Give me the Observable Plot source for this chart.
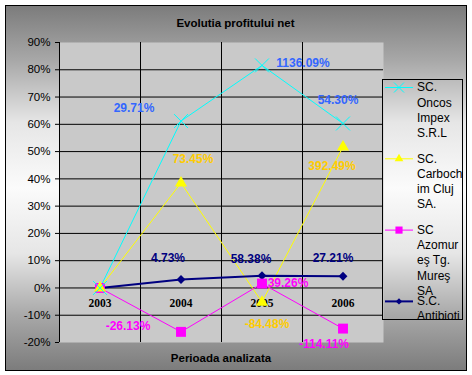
<!DOCTYPE html>
<html>
<head>
<meta charset="utf-8">
<script src="https://cdn.jsdelivr.net/npm/d3@7"></script>
<script src="https://cdn.jsdelivr.net/npm/@observablehq/plot@0.6"></script>
<style>
  html, body { margin: 0; padding: 0; background: #ffffff; }
  #chart { position: relative; width: 472px; height: 375px; overflow: hidden; font-family: 'Liberation Sans', Arial, sans-serif; }
  #frame { position: absolute; left: 5px; top: 5px; width: 460px; height: 364px; border: 1px solid #000;
    background: linear-gradient(to bottom, #7c7c7c 0%, #a8a8a8 15%, #e6e6e6 32%, #fbfbfb 50%, #e6e6e6 68%, #a8a8a8 85%, #7c7c7c 100%); }
  .ttl { position: absolute; font-weight: bold; font-size: 11.5px; line-height: 14px; text-align: center; color: #000; }
  #chart svg { position: absolute; left: 0; top: 0; }
</style>
</head>
<body>
<div id="chart">
  <div id="frame"></div>
</div>
<script>
// ---- data ----
const years = [2003, 2004, 2005, 2006];
const seriesNames = ["SC. Oncos Impex S.R.L", "SC. Carbochim Cluj SA.", "SC Azomureş Tg. Mureş SA", "S.C. Antibiotice"];
const oncos = [0, 61.2, 81.6, 60.3];
const carbochim = [0, 38.5, -5.2, 51.7];
const azomures = [0, -16.1, 1.6, -14.9];
const antibiotice = [0, 3.1, 4.5, 4.3];
const oncosLabels = ["", "29.71%", "1136.09%", "54.30%"];
const carbochimLabels = ["", "73.45%", "-84.48%", "392.49%"];
const azomuresLabels = ["", "-26.13%", "39.26%", "-114.11%"];
const antibioticeLabels = ["", "4.73%", "58.38%", "27.21%"];
const legendLines = [
  ["SC.", "Oncos", "Impex", "S.R.L"],
  ["SC.", "Carboch", "im Cluj", "SA."],
  ["SC", "Azomur", "eş Tg.", "Mureş", "SA"],
  ["S.C.", "Antibioti"]
];
const yTicks = [-20, -10, 0, 10, 20, 30, 40, 50, 60, 70, 80, 90];
const yGrid = [-10, 0, 10, 20, 30, 40, 50, 60, 70, 80];
const titleText = "Evolutia profitului net";
const xTitleText = "Perioada analizata";

// ---- styles / layout (not data) ----
const lineColors = ["#00ffff", "#ffff00", "#ff00ff", "#000080"];
const labelColors = ["#3366ff", "#ffcc00", "#ff00ff", "#000080"];
const symbols = ["times", "triangle", "square", "diamond2"];
const symbolR = [6.4, 4.5, 5.6, 4.0];
const legendSymbolScale = 0.72;
const lineWidths = [1, 1, 1, 2];
const labelOffsets = [
  [null, [-47, -13], [41, -2], [-5, -23]],
  [null, [12, -24], [5, 22], [-11, 19]],
  [null, [-53, -6], [26, 0], [-19, 16]],
  [null, [-13, -21], [-11, -17], [-10, -18]]
];

const seriesValues = [oncos, carbochim, azomures, antibiotice];
const seriesLabels = [oncosLabels, carbochimLabels, azomuresLabels, antibioticeLabels];
const rows = seriesValues.map((vals, s) => years.map((yr, i) => ({series: seriesNames[s], year: yr, value: vals[i], label: seriesLabels[s][i]})));
const boundaries = years.slice(0, -1).map(y => y + 0.5);

const marks = [
  Plot.frame({fill: "#c9c9c9", stroke: "none"}),
  Plot.ruleY(yGrid, {stroke: "#000", strokeWidth: 1}),
  Plot.ruleX(boundaries, {stroke: "#000", strokeWidth: 1}),
  Plot.ruleX([years[0] - 0.5], {stroke: "#000", strokeWidth: 1}),
  Plot.axisY({ticks: yTicks, tickFormat: d => d + "%", tickSize: 4, tickPadding: 5, fontSize: 11.5, label: null}),
  Plot.text(years, {x: d => d, y: 0, dy: 15, text: d => String(d), fontWeight: "bold", fontFamily: "'Liberation Serif', 'Times New Roman', serif", fontSize: 11.5, fill: "#000"})
];
// lines
rows.forEach((r, s) => marks.push(Plot.line(r, {x: "year", y: "value", stroke: lineColors[s], strokeWidth: lineWidths[s]})));
// markers (drawn back to front)
[3, 2, 1, 0].forEach(s => {
  const isStroke = symbols[s] === "times";
  marks.push(Plot.dot(rows[s], {x: "year", y: "value", symbol: () => symbols[s], r: symbolR[s],
    fill: isStroke ? "none" : lineColors[s], stroke: isStroke ? lineColors[s] : "none", strokeWidth: 1}));
});
// data labels
rows.forEach((r, s) => {
  r.forEach((d, i) => {
    if (!d.label) return;
    const [dx, dy] = labelOffsets[s][i];
    marks.push(Plot.text([d], {x: "year", y: "value", text: "label", dx, dy, fill: labelColors[s], fontWeight: "bold", fontSize: 12}));
  });
});

const plot = Plot.plot({
  width: 472, height: 375,
  marginLeft: 59, marginRight: 89, marginTop: 42, marginBottom: 33,
  style: {background: "transparent", fontFamily: "'Liberation Sans', Arial, sans-serif", fontSize: "11.5px", color: "#000", overflow: "visible"},
  x: {domain: [years[0] - 0.5, years[years.length - 1] + 0.5], axis: null, label: null},
  y: {domain: [yTicks[0], yTicks[yTicks.length - 1]], axis: null, label: null},
  marks
});
const chart = document.getElementById("chart");
chart.appendChild(plot);

// titles
const t = document.createElement("div");
t.className = "ttl"; t.textContent = titleText;
Object.assign(t.style, {left: "5px", width: "461px", top: "16px"});
chart.appendChild(t);
const xt = document.createElement("div");
xt.className = "ttl"; xt.textContent = xTitleText;
Object.assign(xt.style, {left: "121px", width: "200px", top: "351px"});
chart.appendChild(xt);

// legend
const L = {x: 382, y: 79, w: 81, h: 241};
const lg = d3.select(chart).append("svg")
  .attr("width", L.w).attr("height", L.h)
  .style("left", L.x + "px").style("top", L.y + "px").style("overflow", "hidden");
lg.append("rect").attr("x", 0.5).attr("y", 0.5).attr("width", L.w - 1).attr("height", L.h - 1)
  .attr("fill", "none").attr("stroke", "#000");
const symMap = {times: d3.symbolTimes, triangle: d3.symbolTriangle, square: d3.symbolSquare, diamond2: d3.symbolDiamond2};
legendLines.forEach((lines, s) => {
  const y0 = 8 + s * 71.3;
  const g = lg.append("g");
  g.append("line").attr("x1", 3).attr("x2", 31).attr("y1", y0 + 0.5).attr("y2", y0 + 0.5)
    .attr("stroke", lineColors[s]).attr("stroke-width", lineWidths[s]);
  const isStroke = symbols[s] === "times";
  const rr = symbolR[s] * legendSymbolScale;
  g.append("path").attr("transform", `translate(17,${y0 + 0.5})`)
    .attr("d", d3.symbol(symMap[symbols[s]], Math.PI * rr * rr)())
    .attr("fill", isStroke ? "none" : lineColors[s]).attr("stroke", isStroke ? lineColors[s] : "none");
  lines.forEach((ln, j) => {
    lg.append("text").attr("x", 35).attr("y", y0 + j * 15.3)
      .attr("dy", "0.35em").attr("font-size", 12)
      .attr("font-family", "'Liberation Sans', Arial, sans-serif").attr("fill", "#000").text(ln);
  });
});
</script>
</body>
</html>
